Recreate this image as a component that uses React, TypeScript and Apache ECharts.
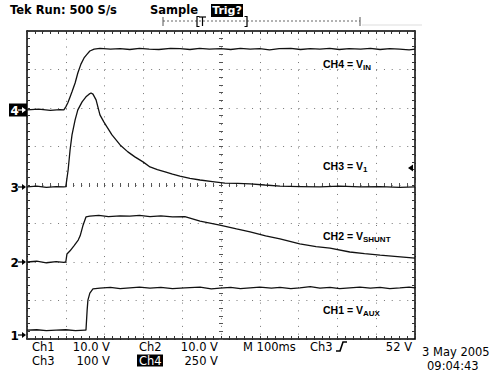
import React, { useEffect, useRef } from 'react';
import * as echarts from 'echarts';

// Time axis: 100 ms/div, 10 divisions. Vertical axis: 8 divisions (0 = bottom).
const X_MIN = 0;
const X_MAX = 1000;
const X_STEP = 100;
const Y_MIN = 0;
const Y_MAX = 8;
const Y_STEP = 1;

// CH4 = V_IN
const CH4_T = [0, 30, 60, 85, 95, 100, 105, 110, 116, 124, 131, 139, 147, 155, 162, 173, 188, 215, 240, 265, 290, 315, 340, 370, 395, 420, 445, 470, 500, 525, 550, 575, 600, 625, 650, 680, 705, 730, 755, 780, 805, 830, 860, 885, 910, 935, 960, 985, 1000];
const CH4_V = [5.95, 5.97, 5.94, 5.96, 5.95, 6.03, 6.13, 6.26, 6.42, 6.65, 6.91, 7.14, 7.30, 7.40, 7.48, 7.53, 7.55, 7.53, 7.54, 7.52, 7.55, 7.53, 7.52, 7.55, 7.54, 7.52, 7.55, 7.53, 7.54, 7.52, 7.55, 7.53, 7.54, 7.51, 7.54, 7.55, 7.52, 7.54, 7.53, 7.55, 7.52, 7.54, 7.53, 7.55, 7.52, 7.54, 7.53, 7.51, 7.53];

// CH3 = V_1
const CH3_T = [0, 25, 50, 75, 95, 100, 106, 111, 116, 124, 131, 142, 152, 160, 165, 170, 178, 188, 198, 206, 219, 240, 260, 278, 299, 317, 336, 356, 375, 394, 420, 446, 478, 510, 543, 575, 613, 652, 703, 755, 806, 858, 910, 961, 1000];
const CH3_V = [3.95, 3.97, 3.94, 3.96, 3.95, 3.96, 4.39, 4.91, 5.30, 5.69, 5.95, 6.16, 6.29, 6.36, 6.39, 6.36, 6.21, 5.82, 5.64, 5.51, 5.30, 5.04, 4.86, 4.73, 4.60, 4.47, 4.40, 4.34, 4.28, 4.23, 4.17, 4.13, 4.09, 4.05, 4.04, 4.03, 4.00, 3.97, 3.96, 3.95, 3.97, 3.95, 3.96, 3.94, 3.95];

// CH2 = V_SHUNT
const CH2_T = [0, 25, 50, 75, 95, 100, 103, 111, 121, 132, 137, 144, 152, 162, 185, 210, 240, 265, 290, 317, 345, 375, 407, 446, 497, 540, 575, 615, 652, 703, 745, 781, 832, 870, 910, 955, 1000];
const CH2_V = [2.00, 2.02, 1.98, 2.01, 1.99, 2.00, 2.21, 2.29, 2.42, 2.57, 2.68, 2.94, 3.17, 3.19, 3.21, 3.18, 3.20, 3.19, 3.21, 3.18, 3.20, 3.17, 3.18, 3.06, 2.96, 2.86, 2.78, 2.68, 2.60, 2.47, 2.40, 2.36, 2.26, 2.22, 2.18, 2.14, 2.10];

// CH1 = V_AUX
const CH1_T = [0, 25, 50, 75, 100, 125, 150, 152, 155, 157, 162, 170, 188, 215, 240, 265, 290, 317, 345, 375, 407, 446, 475, 497, 525, 550, 575, 600, 630, 652, 680, 703, 730, 755, 781, 806, 832, 858, 885, 910, 935, 961, 985, 1000];
const CH1_V = [0.23, 0.24, 0.22, 0.23, 0.24, 0.22, 0.23, 0.23, 0.75, 1.01, 1.19, 1.30, 1.32, 1.34, 1.31, 1.33, 1.35, 1.32, 1.34, 1.31, 1.33, 1.35, 1.30, 1.32, 1.34, 1.31, 1.33, 1.35, 1.32, 1.34, 1.31, 1.33, 1.36, 1.32, 1.34, 1.31, 1.33, 1.35, 1.32, 1.34, 1.31, 1.33, 1.35, 1.33];

const TRACES = [
  { name: 'CH4', t: CH4_T, v: CH4_V },
  { name: 'CH3', t: CH3_T, v: CH3_V },
  { name: 'CH2', t: CH2_T, v: CH2_V },
  { name: 'CH1', t: CH1_T, v: CH1_V },
];

const HEADER_TEXT = 'Tek Run: 500 S/s';
const MODE_TEXT = 'Sample';
const TRIG_TEXT = 'Trig?';
const DATE_TEXT = '3 May 2005';
const TIME_TEXT = '09:04:43';

const GRID = { left: 27, top: 31, width: 388, height: 308 };
const MONO = 'DejaVu Sans';
const LABEL_FONT = 'Liberation Sans';
const FOOT_FONT = `11.5px "${MONO}"`;

function borderAxis(position: string, min: number, max: number, interval: number, split: boolean) {
  return {
    type: 'value',
    gridIndex: 0,
    position,
    min,
    max,
    interval,
    axisLine: { show: true, onZero: false, lineStyle: { color: '#000', width: 1.5 } },
    axisTick: { show: true, inside: true, length: 3, lineStyle: { color: '#333', width: 1 } },
    minorTick: { show: true, splitNumber: 5, length: 3, lineStyle: { color: '#333', width: 1 } },
    axisLabel: { show: false },
    splitLine: { show: split, lineStyle: { color: '#777', width: 1, type: [1, 6.76] } },
    minorSplitLine: { show: false },
  };
}

function centerAxis(gridIndex: number, position: string, min: number, max: number, inside: boolean) {
  return {
    type: 'value',
    gridIndex,
    position,
    min,
    max,
    interval: 1,
    axisLine: { show: true, onZero: true, lineStyle: { color: '#000', opacity: 0 } },
    axisTick: { show: true, inside, length: 2, lineStyle: { color: '#555', width: 1 } },
    minorTick: { show: true, splitNumber: 5, length: 2, lineStyle: { color: '#555', width: 1 } },
    axisLabel: { show: false },
    splitLine: { show: false },
  };
}

function txt(x: number, y: number, text: string, opts: any = {}) {
  return {
    type: 'text',
    x,
    y,
    silent: true,
    z: 100,
    style: {
      text,
      fill: opts.fill || '#000',
      font: opts.font || `12px "${MONO}"`,
      textAlign: opts.align || 'left',
      align: opts.align || 'left',
      textVerticalAlign: 'middle',
      verticalAlign: 'middle',
      lineHeight: opts.lineHeight,
      rich: opts.rich,
    },
  };
}

function line(x1: number, y1: number, x2: number, y2: number, stroke = '#000', width = 1, dash?: number[]) {
  return {
    type: 'line',
    silent: true,
    z: 100,
    shape: { x1, y1, x2, y2 },
    style: { stroke, lineWidth: width, lineDash: dash },
  };
}

function groundMarker(label: string, y: number, inverted: boolean) {
  const col = inverted ? '#fff' : '#000';
  const els: any[] = [];
  if (inverted) {
    els.push({ type: 'rect', silent: true, z: 99, shape: { x: 9, y: y - 6.5, width: 18, height: 13 }, style: { fill: '#000' } });
  }
  els.push(txt(10.5, y + 0.5, label, { fill: col, font: `bold 12px "${MONO}"` }));
  els.push(line(18, y, 24, y, col, 1.2));
  els.push({ type: 'polygon', silent: true, z: 100, shape: { points: [[22, y - 3], [26, y], [22, y + 3]] }, style: { fill: col } });
  return els;
}

function chLabel(x: number, y: number, main: string, sub: string) {
  return txt(x, y, `{m|${main}}{s|${sub}}`, {
    rich: {
      m: { fontSize: 10.5, fontWeight: 'bold', fontFamily: LABEL_FONT, lineHeight: 14, fill: '#000' },
      s: { fontSize: 8, fontWeight: 'bold', fontFamily: LABEL_FONT, verticalAlign: 'bottom', fill: '#000' },
    },
  });
}

function foot(x: number, y: number, text: string, align = 'left', fill = '#000') {
  return txt(x, y, text, { align, fill, font: FOOT_FONT });
}

export default function App() {
  const ref = useRef<HTMLDivElement>(null);

  useEffect(() => {
    document.body.style.margin = '0';
    const chart = echarts.init(ref.current!, null, { renderer: 'svg' });

    const series = TRACES.map((tr) => ({
      name: tr.name,
      type: 'line',
      xAxisIndex: 0,
      yAxisIndex: 0,
      showSymbol: false,
      symbol: 'none',
      silent: true,
      z: 10,
      lineStyle: { color: '#111', width: 1.3 },
      data: tr.t.map((t, i) => [t, tr.v[i]]),
    }));

    const R1 = 346.5;
    const R2 = 360.5;

    const graphics: any[] = [
      // header
      txt(10, 10, HEADER_TEXT, { font: `bold 11.5px "${MONO}"` }),
      txt(150, 10, MODE_TEXT, { font: `bold 11.5px "${MONO}"` }),
      { type: 'rect', silent: true, z: 99, shape: { x: 211, y: 4, width: 32, height: 13 }, style: { fill: '#000' } },
      txt(227, 10.5, TRIG_TEXT, { fill: '#fff', font: `bold 11px "${MONO}"`, align: 'center' }),
      // record view bar
      line(163, 21, 360, 21, '#666', 1, [2, 2]),
      line(163, 17, 163, 26, '#555', 1),
      line(360, 17, 360, 26, '#555', 1),
      { type: 'polyline', silent: true, z: 100, shape: { points: [[199.5, 16.5], [197, 16.5], [197, 26.5], [199.5, 26.5]] }, style: { stroke: '#000', lineWidth: 1.2, fill: null } },
      line(199, 17, 206, 17, '#000', 1.2),
      line(202.5, 17, 202.5, 26, '#000', 1.2),
      { type: 'polyline', silent: true, z: 100, shape: { points: [[244.5, 16.5], [247, 16.5], [247, 26.5], [244.5, 26.5]] }, style: { stroke: '#000', lineWidth: 1.2, fill: null } },
      line(362, 25, 422, 25, '#ddd', 1),
      // ground markers
      ...groundMarker('4', 110, true),
      ...groundMarker('3', 187, false),
      ...groundMarker('2', 262, false),
      ...groundMarker('1', 335, false),
      // trigger level marker
      { type: 'polygon', silent: true, z: 100, shape: { points: [[408, 168], [413, 164.5], [413, 171.5]] }, style: { fill: '#000' } },
      // channel labels
      chLabel(323, 64, 'CH4 = V', 'IN'),
      chLabel(323, 166, 'CH3 = V', '1'),
      chLabel(323, 236, 'CH2 = V', 'SHUNT'),
      chLabel(323, 310, 'CH1 = V', 'AUX'),
      // footer row 1
      foot(32, R1, 'Ch1'),
      foot(110, R1, '10.0 V', 'right'),
      foot(139, R1, 'Ch2'),
      foot(218, R1, '10.0 V', 'right'),
      foot(243, R1, 'M 100ms'),
      foot(310, R1, 'Ch3'),
      { type: 'polyline', silent: true, z: 100, shape: { points: [[336, 351], [340, 351], [343, 342], [347, 342]] }, style: { stroke: '#000', lineWidth: 1.6, fill: null } },
      foot(412, R1, '52 V', 'right'),
      // footer row 2
      foot(32, R2, 'Ch3'),
      foot(110, R2, '100 V', 'right'),
      { type: 'rect', silent: true, z: 99, shape: { x: 137, y: 354.5, width: 26, height: 12 }, style: { fill: '#000' } },
      foot(139, R2, 'Ch4', 'left', '#fff'),
      foot(218, R2, '250 V', 'right'),
      // date/time
      foot(422, 352, DATE_TEXT),
      foot(427, 366, TIME_TEXT),
    ];

    const option: any = {
      animation: false,
      backgroundColor: '#fff',
      grid: [
        { ...GRID },
        { ...GRID },
        { ...GRID },
      ],
      xAxis: [
        borderAxis('bottom', X_MIN, X_MAX, X_STEP, true),
        borderAxis('top', X_MIN, X_MAX, X_STEP, false),
        centerAxis(1, 'bottom', -5, 5, true),
        centerAxis(2, 'bottom', -5, 5, false),
      ],
      yAxis: [
        borderAxis('left', Y_MIN, Y_MAX, Y_STEP, true),
        borderAxis('right', Y_MIN, Y_MAX, Y_STEP, false),
        centerAxis(1, 'left', -4, 4, true),
        centerAxis(2, 'left', -4, 4, false),
      ],
      series,
      graphic: { elements: graphics },
    };

    chart.setOption(option);
    return () => chart.dispose();
  }, []);

  return <div ref={ref} style={{ width: 500, height: 373, background: '#fff' }} />;
}
